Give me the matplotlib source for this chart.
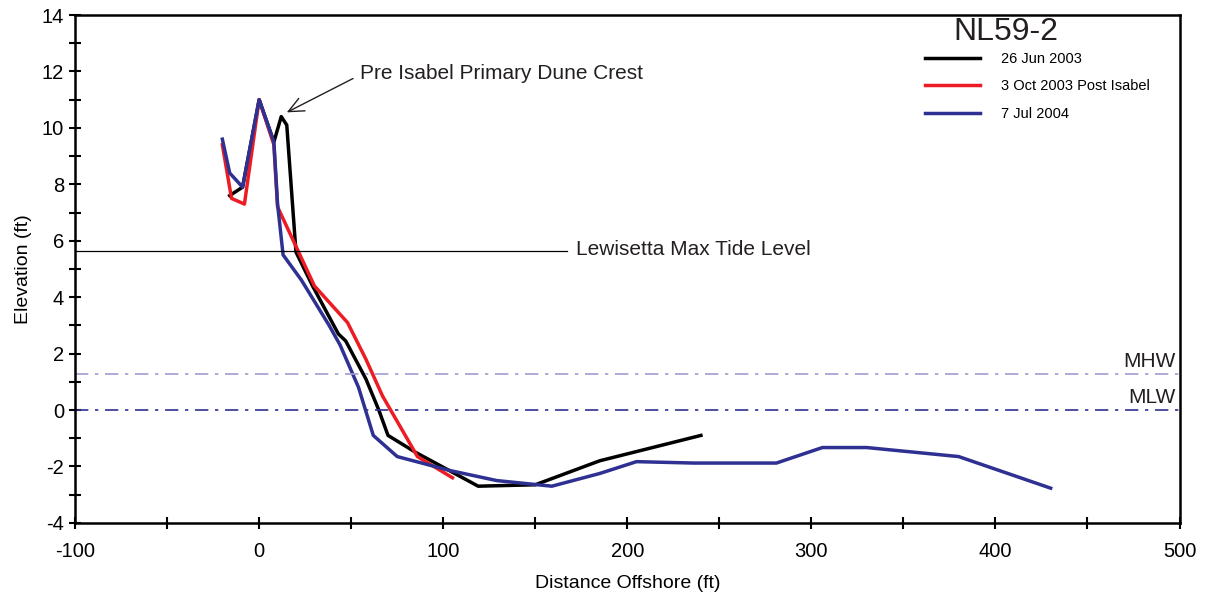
import matplotlib.pyplot as plt
from matplotlib.ticker import MultipleLocator

plt.rcParams['font.family'] = ['Liberation Sans', 'DejaVu Sans']
plt.rcParams['axes.unicode_minus'] = False

# profile NL59-2, distance offshore (ft) vs elevation (ft)
x_jun03 = [-16, -9, 0, 8, 12, 15, 20, 29, 43, 47, 58, 65, 70, 85, 119, 150, 185, 240]
y_jun03 = [7.6, 7.9, 11.0, 9.5, 10.4, 10.1, 5.6, 4.4, 2.7, 2.45, 1.1, 0.0, -0.9, -1.5, -2.7, -2.65, -1.8, -0.9]

x_oct03 = [-20, -15, -8, 0, 8, 10, 20, 30, 48, 58, 67, 86, 105]
y_oct03 = [9.4, 7.5, 7.3, 11.0, 9.4, 7.2, 5.8, 4.4, 3.1, 1.8, 0.5, -1.65, -2.4]

x_jul04 = [-20, -16, -9, 0, 8, 10, 13, 23, 38, 44, 54, 62, 75, 104, 129, 159, 185, 205,
           236, 281, 306, 330, 380, 430]
y_jul04 = [9.6, 8.4, 7.9, 11.0, 9.5, 7.3, 5.5, 4.6, 3.0, 2.3, 0.8, -0.9, -1.65, -2.15,
           -2.5, -2.7, -2.25, -1.83, -1.88, -1.88, -1.33, -1.33, -1.65, -2.77]

max_tide = 5.64
mhw = 1.28
mlw = 0.0

fig = plt.figure(figsize=(12.11, 6.01), dpi=100)
ax = fig.add_axes([0.062, 0.130, 0.912, 0.845])

ax.plot(x_jun03, y_jun03, color='black', lw=2.5, label='26 Jun 2003')
ax.plot(x_oct03, y_oct03, color='#ed1c24', lw=2.5, label='3 Oct 2003 Post Isabel')
ax.plot(x_jul04, y_jul04, color='#2e3192', lw=2.5, label='7 Jul 2004')

txt = '#231f20'
ax.plot([-100, 167], [max_tide, max_tide], color='black', lw=0.9)
ax.text(172, max_tide + 0.05, 'Lewisetta Max Tide Level', fontsize=15, va='center', ha='left', color=txt)

ax.axhline(mhw, color='#9f9dcf', lw=1.2, ls='-.', dashes=(8, 4, 2, 4))
ax.axhline(mlw, color='#2e3192', lw=1.2, ls='-.', dashes=(8, 4, 2, 4))
ax.text(498, mhw + 0.1, 'MHW', fontsize=15, ha='right', va='bottom', color=txt)
ax.text(498, mlw + 0.1, 'MLW', fontsize=15, ha='right', va='bottom', color=txt)

ax.text(55, 11.93, 'Pre Isabel Primary Dune Crest', fontsize=15, va='center', ha='left', color=txt)
ax.annotate('', xy=(15, 10.55), xytext=(51, 11.75),
            arrowprops=dict(arrowstyle='->,head_length=0.55,head_width=0.25', color=txt, lw=1.0,
                            shrinkA=0, shrinkB=0, mutation_scale=20))

ax.set_xlim(-100, 500)
ax.set_ylim(-4, 14)
ax.xaxis.set_major_locator(MultipleLocator(100))
ax.xaxis.set_minor_locator(MultipleLocator(50))
ax.yaxis.set_major_locator(MultipleLocator(2))
ax.yaxis.set_minor_locator(MultipleLocator(1))
ax.tick_params(which='both', direction='inout', width=1.5, length=9, labelsize=14.5, colors='black')
ax.tick_params(axis='x', pad=9)
for s in ax.spines.values():
    s.set_linewidth(1.8)

ax.set_xlabel('Distance Offshore (ft)', fontsize=14, labelpad=10)
ax.set_ylabel('Elevation (ft)', fontsize=14, labelpad=7)

fig.text(953 / 1211, 1 - 17 / 601, 'NL59-2', fontsize=23, va='top', ha='left', color=txt)
leg = ax.legend(loc='upper left', bbox_to_anchor=(925 / 1211, 1 - 52 / 601),
                bbox_transform=fig.transFigure, frameon=False, fontsize=10.5,
                handlelength=3.8, handletextpad=1.4, labelspacing=0.92,
                borderpad=0, borderaxespad=0)
for h in leg.get_lines():
    h.set_linewidth(2.5)

fig.savefig('out.png', dpi=100)
